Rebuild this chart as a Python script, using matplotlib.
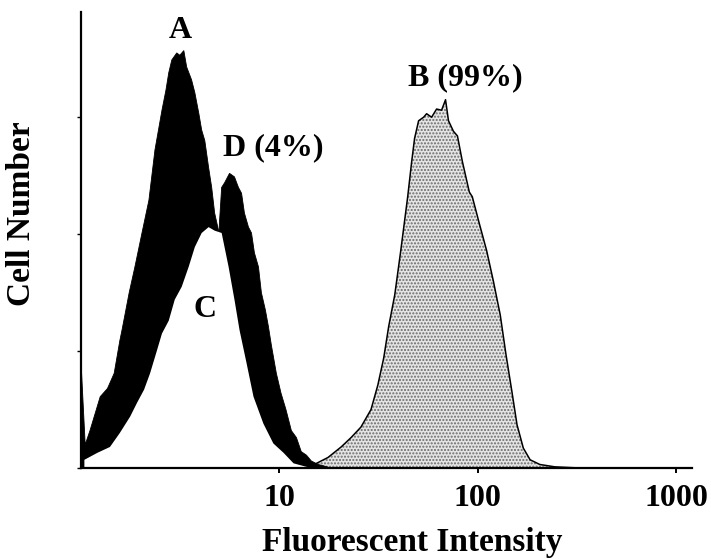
import matplotlib
matplotlib.use("Agg")
import matplotlib.pyplot as plt

# ---- data ----
# Histogram A (control, black)
a_x = [1.0, 1.0, 1.05, 1.11, 1.25, 1.36, 1.47, 1.57, 1.61, 1.75, 1.87, 2.03, 2.20, 2.36,
       2.56, 2.68, 2.77, 2.87, 3.04, 3.15, 3.30, 3.41, 3.61, 3.75, 3.93, 4.06, 4.21,
       4.40, 4.56, 4.72, 4.94, 5.24, 5.61, 6.01]
a_y = [0.0, 0.91, 0.20, 0.32, 0.61, 0.68, 0.81, 1.09, 1.18, 1.50, 1.72, 2.01, 2.29, 2.72,
       3.06, 3.23, 3.38, 3.49, 3.55, 3.53, 3.57, 3.43, 3.32, 3.21, 3.03, 2.89, 2.80,
       2.57, 2.40, 2.18, 2.03, 1.52, 0.58, 0.0]

# Histogram D (black)
d_x = [4.30, 4.67, 5.00, 5.12, 5.30, 5.61, 5.94, 6.22, 6.45, 6.67, 6.99, 7.24, 7.49,
       7.85, 8.12, 8.51, 8.81, 9.12, 9.66, 10.2, 10.8, 11.5, 12.2, 12.9, 13.7, 14.5,
       15.7, 16.6, 18.2]
d_y = [0.0, 1.18, 2.12, 2.40, 2.44, 2.52, 2.49, 2.40, 2.35, 2.18, 2.06, 2.01, 1.84,
       1.72, 1.50, 1.35, 1.21, 1.05, 0.81, 0.64, 0.50, 0.32, 0.26, 0.14, 0.11, 0.06,
       0.03, 0.02, 0.0]

# Histogram C (white)
c_x = [1.04, 1.04, 1.21, 1.40, 1.57, 1.77, 1.92, 2.08, 2.23, 2.42, 2.56, 2.77, 2.97,
       3.22, 3.49, 3.75, 4.06, 4.40, 4.72, 5.12, 5.55, 5.94, 6.30, 6.83, 7.41, 8.31,
       9.33, 10.5, 11.8, 13.7, 15.3]
c_y = [0.0, 0.07, 0.13, 0.18, 0.30, 0.44, 0.56, 0.67, 0.81, 1.01, 1.15, 1.26, 1.44,
       1.55, 1.72, 1.89, 2.01, 2.06, 2.03, 2.01, 1.72, 1.44, 1.18, 0.90, 0.61, 0.38,
       0.21, 0.13, 0.04, 0.01, 0.0]

# Histogram B (stippled)
b_x = [12.9, 15.0, 17.6, 20.5, 23.0, 25.8, 29.0, 31.4, 33.6, 35.6, 38.2, 40.9, 44.4,
       46.5, 48.1, 50.4, 53.4, 55.3, 58.6, 62.1, 65.8, 68.9, 71.3, 75.5, 79.1, 83.8,
       90.8, 94.0, 102, 111, 120, 130, 139, 149, 158, 170, 184, 206, 245, 327]
b_y = [0.0, 0.03, 0.09, 0.18, 0.26, 0.35, 0.50, 0.71, 0.94, 1.21, 1.48, 1.85, 2.32,
       2.62, 2.82, 2.97, 3.00, 3.03, 3.00, 3.07, 3.06, 3.15, 2.97, 2.88, 2.84, 2.62,
       2.36, 2.32, 2.09, 1.86, 1.60, 1.31, 0.97, 0.65, 0.37, 0.17, 0.07, 0.03, 0.01, 0.0]

x_ticks = [10, 100, 1000]
x_tick_labels = ["10", "100", "1000"]
y_ticks = [0, 1, 2, 3]

labels = ["A", "D (4%)", "C", "B (99%)"]
label_x = [3.15, 9.27, 4.23, 86.7]
label_y = [3.675, 2.675, 1.29, 3.27]

# ---- figure ----
plt.rcParams['font.family'] = ['Liberation Serif', 'DejaVu Serif']
plt.rcParams['font.weight'] = 'bold'

fig = plt.figure(figsize=(7.11, 5.59), dpi=100)
ax = fig.add_axes([81/711, 1 - 468/559, (692 - 81)/711, (468 - 12)/559])

ax.set_xscale('log')
ax.set_xlim(1.0, 1205)
ax.set_ylim(0, 3.9)

# B: stippled fill + outline
ax.fill(b_x, b_y, facecolor='#e4e4e4', edgecolor='#6a6a6a', linewidth=0,
        hatch='.....', zorder=1)
ax.plot(b_x, b_y, color='black', linewidth=1.1, zorder=1.5)

# A and D black
ax.fill(a_x, a_y, facecolor='black', edgecolor='black', linewidth=0.6, zorder=2)
ax.fill(d_x, d_y, facecolor='black', edgecolor='black', linewidth=0.6, zorder=2)
# C white on top
ax.fill(c_x, c_y, facecolor='white', edgecolor='none', zorder=3)

for t, lx, ly in zip(labels, label_x, label_y):
    ax.text(lx, ly, t, ha='center', va='baseline', fontsize=23,
            fontweight='bold', color='black', zorder=5)

for s in ['top', 'right']:
    ax.spines[s].set_visible(False)
for s in ['left', 'bottom']:
    ax.spines[s].set_linewidth(1.6)
    ax.spines[s].set_color('black')
    ax.spines[s].set_zorder(6)

ax.set_xticks(x_ticks)
ax.set_xticklabels(x_tick_labels)
ax.xaxis.set_minor_locator(matplotlib.ticker.NullLocator())
ax.set_yticks(y_ticks)
ax.set_yticklabels([])
ax.tick_params(axis='x', direction='out', length=3.5, width=1.4, pad=8,
               labelsize=23)
ax.tick_params(axis='y', direction='out', length=3, width=1.0)
for lab in ax.get_xticklabels():
    lab.set_fontweight('bold')

fig.text(22/711, 1 - 214/559, "Cell Number", rotation=90, ha='center', va='center',
         fontsize=24, fontweight='bold')
fig.text(412/711, 1 - 542/559, "Fluorescent Intensity", ha='center', va='center',
         fontsize=24, fontweight='bold')

fig.savefig("out.png", dpi=100)
